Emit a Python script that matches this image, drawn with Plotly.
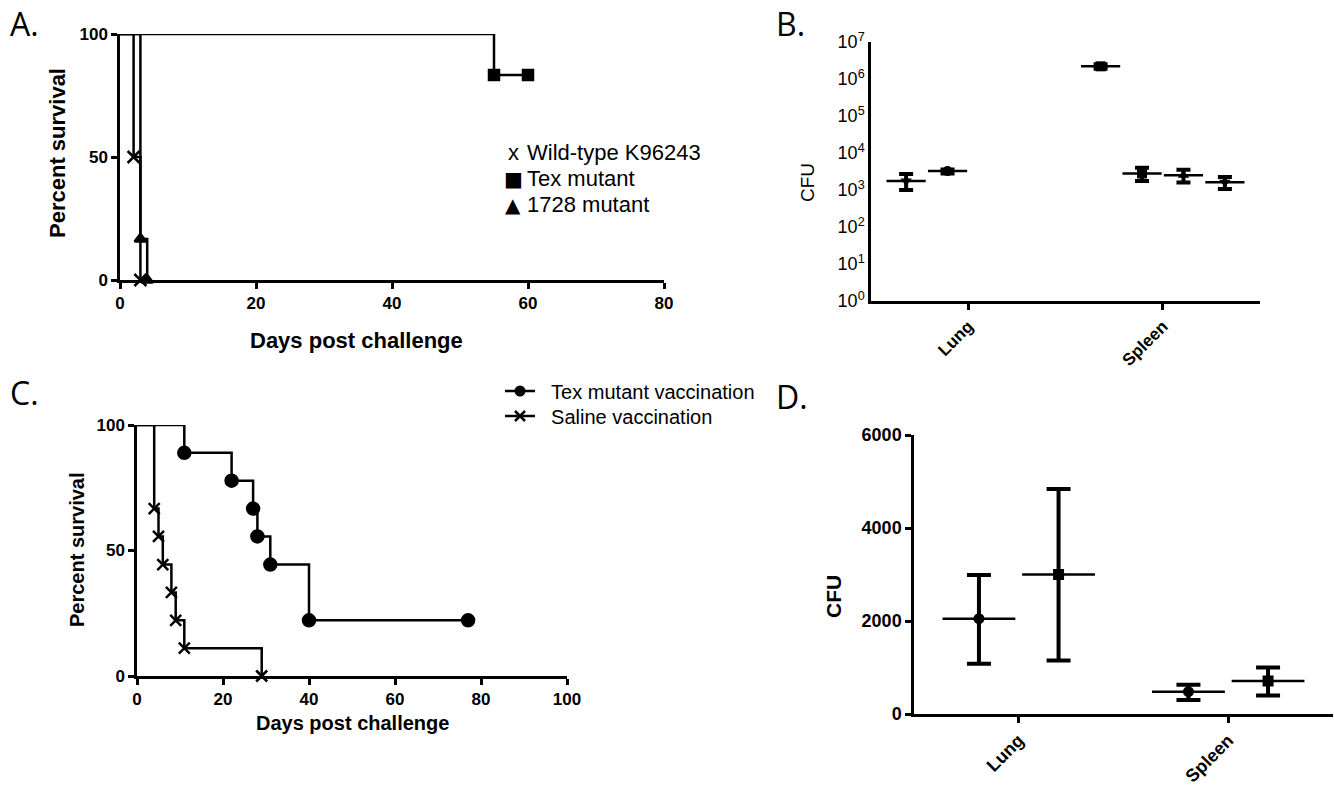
import plotly.graph_objects as go

W, H = 1334, 795
FONT = "Liberation Sans"

# ---------------- data ----------------
# Panel A: Kaplan-Meier survival after challenge
wt_days = [0, 2, 3]
wt_surv = [100, 50, 0]
tex_days = [0, 55, 60]
tex_surv = [100, 83.3, 83.3]
m1728_days = [0, 3, 4]
m1728_surv = [100, 16.7, 0]
legend_a = ["Wild-type K96243", "Tex mutant", "1728 mutant"]
legend_a_glyph = ["x", "\u25a0", "\u25b2"]

# Panel B: CFU (log scale)
b_groups = ["Lung", "Lung", "Spleen", "Spleen", "Spleen", "Spleen"]
b_slot = [0, 1, 0, 1, 2, 3]
b_mean = [1750, 3240, 2.2e6, 2800, 2500, 1620]
b_upper = [2700, 3600, 2.5e6, 4000, 3500, 2240]
b_lower = [1000, 2800, 1.9e6, 1750, 1600, 1070]
b_symbol = ["triangle-down", "circle", "square", "square", "triangle-up", "triangle-down"]
b_ticks = [1, 10, 100, 1000, 1e4, 1e5, 1e6, 1e7]
b_ticktext = ["10<sup>%d</sup>" % i for i in range(8)]

# Panel C: vaccination survival
texvac_days = [0, 11, 22, 27, 28, 31, 40, 77]
texvac_surv = [100, 88.9, 77.8, 66.7, 55.6, 44.4, 22.2, 22.2]
saline_days = [0, 4, 5, 6, 8, 9, 11, 29]
saline_surv = [100, 66.7, 55.6, 44.4, 33.3, 22.2, 11.1, 0]
legend_c = ["Tex mutant vaccination", "Saline vaccination"]

# Panel D: CFU (linear)
d_groups = ["Lung", "Lung", "Spleen", "Spleen"]
d_slot = [0, 1, 0, 1]
d_mean = [2050, 3000, 480, 710]
d_upper = [2990, 4840, 630, 1000]
d_lower = [1080, 1150, 300, 400]
d_symbol = ["circle", "square", "circle", "square"]

categories = ["Lung", "Spleen"]

# ---------------- helpers ----------------
def dx(p):
    return p / W

def dy(p):
    return 1 - p / H

def axis(domain, rng, **kw):
    d = dict(domain=domain, range=rng, showline=True, linecolor="black", linewidth=2.5,
             ticks="outside", ticklen=6, tickwidth=2.5, tickcolor="black",
             showgrid=False, zeroline=False, automargin=False,
             tickfont=dict(family=FONT, size=17, color="black", weight="bold"))
    d.update(kw)
    return d

fig = go.Figure()

# ---------------- Panel A ----------------
def km(fig, days, surv, symbol, size, xa, ya):
    fig.add_trace(go.Scatter(x=days, y=surv, mode="lines", line=dict(color="black", width=2.5, shape="hv"),
                             xaxis=xa, yaxis=ya, showlegend=False, cliponaxis=False, hoverinfo="skip"))
    mk = dict(symbol=symbol, size=size, color="black", line=dict(color="black", width=2.5))
    fig.add_trace(go.Scatter(x=days[1:], y=surv[1:], mode="markers", marker=mk,
                             xaxis=xa, yaxis=ya, showlegend=False, cliponaxis=False))

km(fig, wt_days, wt_surv, "x-thin", 12, "x", "y")
km(fig, tex_days, tex_surv, "square", 10, "x", "y")
km(fig, m1728_days, m1728_surv, "triangle-up", 10, "x", "y")

# ---------------- Panel B ----------------
bx = [categories.index(g) + (s - 1.5) * 0.213 for g, s in zip(b_groups, b_slot)]
fig.add_trace(go.Scatter(
    x=bx, y=b_mean, mode="markers", xaxis="x2", yaxis="y2", showlegend=False, cliponaxis=False,
    marker=dict(symbol="line-ew", size=28, line=dict(color="black", width=2.5)),
    error_y=dict(type="data", symmetric=False,
                 array=[u - m for u, m in zip(b_upper, b_mean)],
                 arrayminus=[m - l for m, l in zip(b_mean, b_lower)],
                 color="black", thickness=4, width=7)))
fig.add_trace(go.Scatter(x=bx, y=b_mean, mode="markers", xaxis="x2", yaxis="y2", showlegend=False,
                         cliponaxis=False, marker=dict(symbol=b_symbol, size=10, color="black")))

# ---------------- Panel C ----------------
km(fig, texvac_days, texvac_surv, "circle", 12, "x3", "y3")
km(fig, saline_days, saline_surv, "x-thin", 11, "x3", "y3")
fig.add_trace(go.Scatter(x=[None], y=[None], mode="lines+markers", name="\u00a0\u00a0" + legend_c[0],
                         line=dict(color="black", width=2.5),
                         marker=dict(symbol="circle", size=11, color="black"),
                         xaxis="x3", yaxis="y3", legend="legend2"))
fig.add_trace(go.Scatter(x=[None], y=[None], mode="lines+markers", name="\u00a0\u00a0" + legend_c[1],
                         line=dict(color="black", width=2.5),
                         marker=dict(symbol="x-thin", size=10, color="black", line=dict(color="black", width=2.5)),
                         xaxis="x3", yaxis="y3", legend="legend3"))

# ---------------- Panel D ----------------
dxs = [categories.index(g) + (s - 0.5) * 0.38 for g, s in zip(d_groups, d_slot)]
fig.add_trace(go.Scatter(
    x=dxs, y=d_mean, mode="markers", xaxis="x4", yaxis="y4", showlegend=False, cliponaxis=False,
    marker=dict(symbol="line-ew", size=52, line=dict(color="black", width=2.5)),
    error_y=dict(type="data", symmetric=False,
                 array=[u - m for u, m in zip(d_upper, d_mean)],
                 arrayminus=[m - l for m, l in zip(d_mean, d_lower)],
                 color="black", thickness=4, width=12)))
fig.add_trace(go.Scatter(x=dxs, y=d_mean, mode="markers", xaxis="x4", yaxis="y4", showlegend=False,
                         cliponaxis=False, marker=dict(symbol=d_symbol, size=11, color="black")))

# ---------------- Layout ----------------
leg_style = dict(xanchor="left", yanchor="middle", font=dict(family=FONT, size=20, color="black"),
                 bgcolor="rgba(0,0,0,0)", itemwidth=30)
fig.update_layout(
    template="none",
    width=W, height=H, margin=dict(l=0, r=0, t=0, b=0, autoexpand=False),
    paper_bgcolor="white", plot_bgcolor="white", showlegend=True,
    font=dict(family=FONT, color="black"),
    xaxis=axis([dx(120), dx(664)], [0, 80], tickvals=[0, 20, 40, 60, 80], anchor="y"),
    yaxis=axis([dy(280), dy(34)], [0, 100], tickvals=[0, 50, 100], anchor="x"),
    xaxis2=axis([dx(871), dx(1260)], [-0.5, 1.5], tickvals=[0, 1], ticktext=categories,
                tickangle=-45, anchor="y2"),
    yaxis2=axis([dy(301), dy(42)], [0, 7], type="log", tickvals=b_ticks, ticktext=b_ticktext,
                ticks="", anchor="x2",
                tickfont=dict(family=FONT, size=18, color="black")),
    xaxis3=axis([dx(137), dx(567)], [0, 100], tickvals=[0, 20, 40, 60, 80, 100], anchor="y3"),
    yaxis3=axis([dy(676), dy(425)], [0, 100], tickvals=[0, 50, 100], anchor="x3"),
    xaxis4=axis([dx(914), dx(1333)], [-0.5, 1.5], tickvals=[0, 1], ticktext=categories,
                tickangle=-45, anchor="y4", tickfont=dict(family=FONT, size=18, color="black", weight="bold")),
    yaxis4=axis([dy(714), dy(435)], [0, 6000], tickvals=[0, 2000, 4000, 6000], anchor="x4",
                tickfont=dict(family=FONT, size=18, color="black", weight="bold")),
    legend2=dict(x=dx(500), y=dy(391), **leg_style),
    legend3=dict(x=dx(500), y=dy(416), **leg_style),
)

ann = []
def text(x, y, s, size, bold=False, angle=0, xanchor="center", family=FONT):
    ann.append(dict(x=dx(x), y=dy(y), xref="paper", yref="paper", text=s, showarrow=False,
                    textangle=angle, xanchor=xanchor, yanchor="middle",
                    font=dict(family=family, size=size, color="black", weight="bold" if bold else "normal")))

# panel letters
for lab, x, y in [("A.", 8, 24), ("B.", 774, 24), ("C.", 8, 392), ("D.", 774, 396)]:
    text(x, y, lab, 32, xanchor="left", family="Open Sans")

# axis titles
text(58, 153, "Percent survival", 22, bold=True, angle=-90)
text(357, 340, "Days post challenge", 22, bold=True)
text(808, 183, "CFU", 19, angle=-90)
text(77, 550, "Percent survival", 20, bold=True, angle=-90)
text(352, 723, "Days post challenge", 20, bold=True)
text(833, 597, "CFU", 21, bold=True, angle=-90)

# legend of panel A
for i, (g, lab) in enumerate(zip(legend_a_glyph, legend_a)):
    yy = 153 + i * 26
    text(513, yy, g, 20 if g != "x" else 22, xanchor="center", family="DejaVu Sans" if g != "x" else FONT)
    text(525, yy, lab, 22, xanchor="left")

fig.update_layout(annotations=ann)
fig.write_html("out.html", config={"displayModeBar": False},
               post_script="document.body.style.margin='0';document.body.style.padding='0';"
                           "document.body.style.overflow='hidden';")
